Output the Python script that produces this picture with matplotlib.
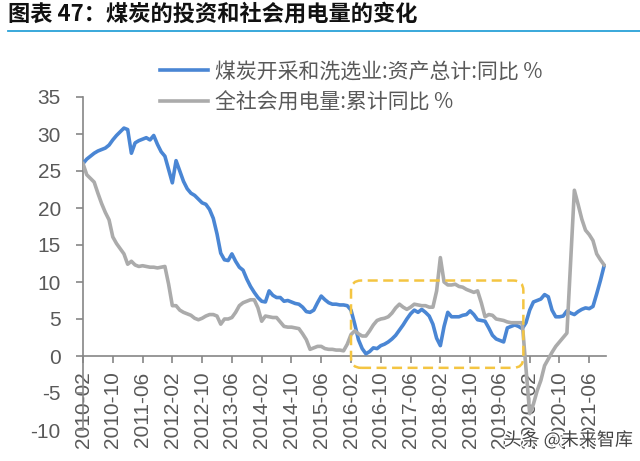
import numpy as np
import pandas as pd
import matplotlib
matplotlib.use('Agg')
import matplotlib.pyplot as plt
from matplotlib.patches import FancyBboxPatch
import matplotlib.patheffects as pe

plt.rcParams['font.family'] = ['Liberation Sans', 'Noto Sans CJK SC', 'DejaVu Sans']
plt.rcParams['axes.unicode_minus'] = False

# monthly, 2010-02 .. 2021-10
months = pd.period_range('2010-02', '2021-10', freq='M')

coal_assets = [
    26.0, 26.6, 27.0, 27.4, 27.7, 27.9, 28.1, 28.5, 29.2, 29.8, 30.3, 30.8,
    30.6, 27.4, 28.8, 29.1, 29.3, 29.5, 29.2, 29.8, 28.6, 27.6, 27.0, 25.2,
    23.4, 26.4, 25.0, 23.6, 22.6, 22.0, 21.7, 21.2, 20.7, 20.5, 19.8, 18.6,
    16.5, 13.9, 13.0, 12.9, 13.8, 12.8, 12.0, 11.6, 10.4, 9.4, 8.6, 7.9,
    7.4, 7.3, 8.8, 8.2, 7.9, 7.9, 7.4, 7.5, 7.3, 7.1, 7.0, 6.6,
    6.0, 5.9, 6.2, 7.2, 8.1, 7.6, 7.2, 7.0, 7.0, 6.9, 6.9, 6.8,
    6.2, 4.3, 2.2, 1.0, 0.3, 0.6, 1.1, 1.0, 1.4, 1.6, 1.9, 2.3,
    2.8, 3.5, 4.2, 5.0, 5.7, 6.2, 5.9, 6.3, 5.9, 5.4, 4.3, 2.4,
    1.4, 4.0, 5.9, 5.3, 5.3, 5.3, 5.5, 5.6, 6.1, 5.6, 4.9, 4.8,
    4.7, 3.8, 2.8, 2.3, 2.1, 1.9, 3.8, 4.0, 4.2, 4.0, 3.7, 4.5,
    6.2, 7.3, 7.5, 7.7, 8.3, 8.0, 6.2, 5.3, 5.3, 5.4, 6.1, 5.8,
    5.6, 6.0, 6.3, 6.5, 6.4, 6.7, 8.4, 10.2, 12.2,
]

power_use = [
    26.0, 24.5, 24.0, 23.5, 22.0, 20.6, 19.4, 18.4, 16.1, 15.2, 14.5, 13.8,
    12.4, 12.8, 12.3, 12.1, 12.2, 12.1, 12.0, 12.0, 11.9, 12.0, 12.1, 9.7,
    6.8, 6.8, 6.2, 5.9, 5.7, 5.5, 5.1, 4.9, 5.1, 5.4, 5.6, 5.6,
    5.4, 4.3, 5.0, 5.0, 5.2, 5.9, 6.8, 7.2, 7.4, 7.6, 7.6, 6.5,
    4.7, 5.4, 5.3, 5.2, 5.2, 4.6, 4.0, 3.9, 3.9, 3.8, 3.7, 3.0,
    2.2, 0.9, 1.1, 1.3, 1.3, 1.0, 0.9, 0.9, 0.8, 0.8, 0.7, 1.6,
    2.9, 3.4, 3.0, 2.7, 2.7, 3.4, 4.2, 4.8, 5.0, 5.1, 5.3, 5.8,
    6.5, 7.0, 6.6, 6.3, 6.6, 7.0, 6.9, 6.8, 6.8, 6.6, 6.6, 8.8,
    13.3, 10.0, 9.6, 9.6, 9.7, 9.4, 9.3, 9.0, 8.8, 8.6, 8.8, 7.2,
    5.3, 5.6, 5.5, 5.0, 4.9, 4.8, 4.6, 4.5, 4.5, 4.5, 4.5, np.nan,
    -7.8, -6.5, -4.7, -3.3, -1.3, -0.4, 0.5, 1.3, 1.9, 2.5, 3.1, np.nan,
    22.4, 20.5, 18.5, 17.0, 16.4, 15.6, 13.8, 13.0, 12.3,
]

labels = ['煤炭开采和洗选业:资产总计:同比 %', '全社会用电量:累计同比 %']

df = pd.DataFrame({'coal': coal_assets, 'power': power_use}, index=months)
x = np.arange(len(df))
tick_idx = x[::8]
tick_labels = [str(p) for p in months[::8]]

fig = plt.figure(figsize=(6.4, 4.61), dpi=100)
ax = fig.add_axes([83 / 640, 1 - 430 / 461, 523 / 640, 333 / 461])

pw = df['power'].dropna()
pw_x = x[df['power'].notna().values]
ax.plot(x, df['coal'], color='#4A86D4', lw=2.6, label=labels[0], zorder=3,
        solid_joinstyle='round')
ax.plot(pw_x, pw.values, color='#ABABAB', lw=2.6, label=labels[1], zorder=3,
        solid_joinstyle='round')

# highlighted period
box = FancyBboxPatch((72, -1.6), 46.3, 11.8,
                     boxstyle='round,pad=0,rounding_size=2.7',
                     mutation_aspect=3.72 / 7.37, fill=False,
                     ec='#F4C542', lw=1.8, ls=(0, (4, 2.2)), zorder=4)
ax.add_patch(box)

ax.set_xlim(0, 140.5)
ax.set_ylim(-10, 35)
ax.set_yticks(range(-10, 36, 5))
ax.set_xticks(tick_idx)
ax.set_xticklabels(tick_labels)

for s in ['top', 'right']:
    ax.spines[s].set_visible(False)
ax.spines['bottom'].set_position(('data', 0))
for s in ['left', 'bottom']:
    ax.spines[s].set_color('#868686')
    ax.spines[s].set_linewidth(1.2)
ax.tick_params(axis='both', colors='#868686', labelcolor='#595959',
               labelsize=15, length=5, width=1.2)
ax.tick_params(axis='y', pad=11)
ax.tick_params(axis='x', pad=6, labelrotation=90)
for t in ax.get_xticklabels():
    t.set_va('top')
    t.set_ha('center')

leg = fig.legend(loc='upper left', bbox_to_anchor=(150 / 640, 1 - 50 / 461),
                 frameon=False, handlelength=2.3,
                 handletextpad=0.3, labelspacing=0.45, borderpad=0,
                 prop={'family': ['Noto Sans CJK SC', 'DejaVu Sans'], 'size': 15})
for t in leg.get_texts():
    t.set_color('#595959')

fig.text(8 / 640, 1 - 14 / 461, '图表 47：煤炭的投资和社会用电量的变化',
         fontsize=16, fontweight='bold', color='#111111', va='center',
         family=['Noto Sans CJK SC', 'DejaVu Sans'])
fig.add_artist(plt.Line2D([8 / 640, 1], [1 - 31.5 / 461] * 2,
                          color='#2AA1D8', lw=1.3))

fig.text(568 / 640, 1 - 440 / 461, '头条 @未来智库', fontsize=13,
         color='#444444', ha='center', va='center',
         family=['Noto Sans CJK SC', 'DejaVu Sans'],
         path_effects=[pe.withStroke(linewidth=2, foreground='white')])

fig.savefig('out.png', dpi=100)
